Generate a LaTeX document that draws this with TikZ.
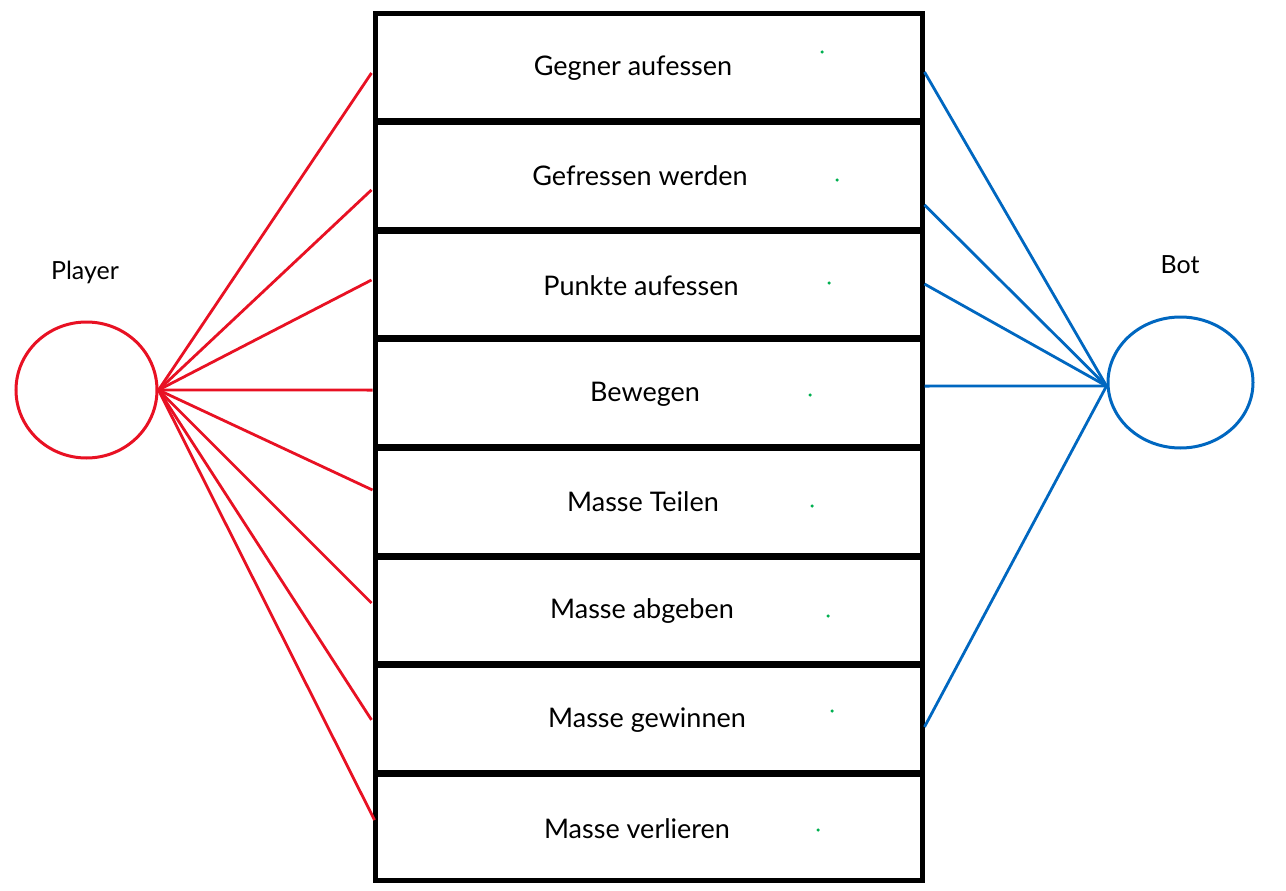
\documentclass[tikz,border=0pt]{standalone}
\usepackage{fontspec}
\setmainfont{Lato}
\usetikzlibrary{calc}
\definecolor{pred}{RGB}{232,17,35}
\definecolor{bblue}{RGB}{0,103,192}
\definecolor{dgreen}{RGB}{0,176,80}
\tikzset{
  rowbox/.style={draw=black,line width=5pt,minimum width=547pt,minimum height=106.6pt,inner sep=0pt,fill=white},
  rowtext/.style={font=\fontsize{27}{32}\selectfont,inner sep=0pt},
  actor/.style={ellipse,line width=3pt,inner sep=0pt},
  plink/.style={draw=pred,line width=2.8pt},
  blink/.style={draw=bblue,line width=2.8pt},
  gdot/.style={circle,fill=dgreen,inner sep=0pt,minimum size=3.5pt},
  actorlabel/.style={font=\fontsize{25}{30}\selectfont,inner sep=0pt}
}
\usetikzlibrary{shapes.geometric}
\begin{document}
\begin{tikzpicture}[x=1pt,y=-1pt]
\useasboundingbox (0,0) rectangle (1286,891);
% rows
\foreach \i in {1,...,8} {
  \node[rowbox] (r\i) at (648.5,{13+108.6*(\i-0.5)}) {};
}
\node[rowtext] (t1) at (633,68) {Gegner aufessen};
\node[rowtext] (t2) at (640,176) {Gefressen werden};
\node[rowtext] (t3) at (641,286) {Punkte aufessen};
\node[rowtext] (t4) at (645,394) {Bewegen};
\node[rowtext] (t5) at (643,502) {Masse Teilen};
\node[rowtext] (t6) at (642,611) {Masse abgeben};
\node[rowtext] (t7) at (647,720) {Masse gewinnen};
\node[rowtext] (t8) at (637,829) {Masse verlieren};
% green dots
\node[gdot] (g1) at (822,52) {};
\node[gdot] (g2) at (837,180) {};
\node[gdot] (g3) at (829,283) {};
\node[gdot] (g4) at (810,395) {};
\node[gdot] (g5) at (812,506) {};
\node[gdot] (g6) at (828,616) {};
\node[gdot] (g7) at (832,711) {};
\node[gdot] (g8) at (818,830) {};
% actors
\node[actor,draw=pred,minimum width=141pt,minimum height=136pt] (P) at (86.5,390) {};
\node[actor,draw=bblue,minimum width=145pt,minimum height=131pt] (B) at (1180.5,382.5) {};
\node[actorlabel] (PL) at (85,272) {Player};
\node[actorlabel] (BL) at (1180,265) {Bot};
% player links
\draw[plink] (P.east) -- ([yshift=-5.7pt,xshift=-1pt]r1.west);
\draw[plink] (P.east) -- ([yshift=-14pt,xshift=-1pt]r2.west);
\draw[plink] (P.east) -- ([yshift=4.5pt,xshift=-1pt]r3.west);
\draw[plink] (P.east) -- ([yshift=3pt]r4.west);
\draw[plink] (P.east) -- ([yshift=11.7pt]r5.west);
\draw[plink] (P.east) -- ([yshift=7.3pt,xshift=-1pt]r6.west);
\draw[plink] (P.east) -- ([yshift=-1pt,xshift=-1pt]r7.west);
\draw[plink] (P.east) -- ([yshift=7.5pt,xshift=2pt]r8.west);
% bot links
\draw[blink] ([yshift=-3.5pt]B.west) -- ([yshift=-4.7pt]r1.east);
\draw[blink] ([yshift=-3.5pt]B.west) -- ([yshift=-29pt]r2.east);
\draw[blink] ([yshift=-3.5pt]B.west) -- ([yshift=0.5pt]r3.east);
\draw[blink] ([yshift=-3.5pt]B.west) -- ([yshift=7pt]r4.east);
\draw[blink] ([yshift=-3.5pt]B.west) -- ([yshift=-8pt]r7.east);
\end{tikzpicture}
\end{document}
